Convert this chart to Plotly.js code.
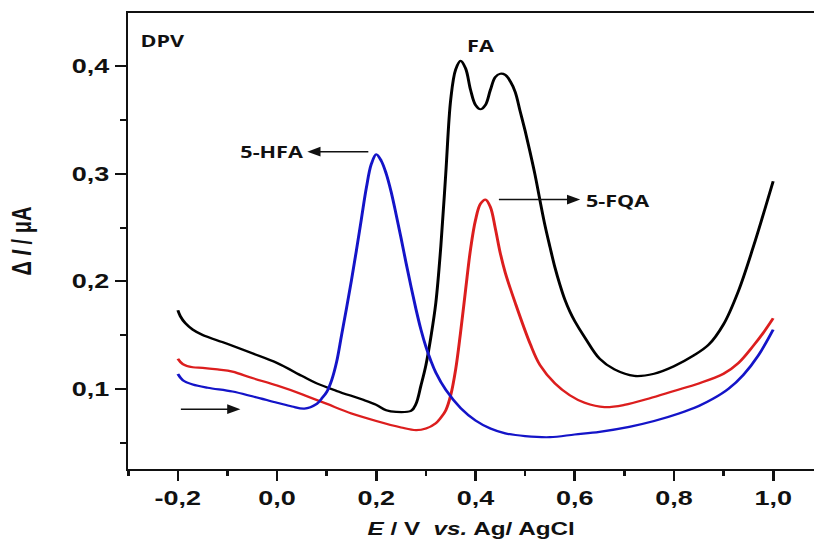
<!DOCTYPE html>
<html>
<head>
<meta charset="utf-8">
<script src="https://cdn.plot.ly/plotly-3.0.1.min.js"></script>
<style>
html,body{margin:0;padding:0;background:#fff;overflow:hidden;width:814px;height:550px;}
#chart{width:603px;height:550px;transform:scaleX(1.35);transform-origin:0 0;}
</style>
</head>
<body>
<div id="chart"></div>
<script>
// FA (black)
const faE = [-0.2,-0.195,-0.185,-0.17,-0.15,-0.12,-0.09,-0.05,0.0,0.05,0.08,0.12,0.175,0.20,0.22,0.24,0.27,0.28,0.29,0.30,0.31,0.32,0.33,0.34,0.35,0.36,0.37,0.38,0.39,0.40,0.41,0.42,0.43,0.44,0.45,0.46,0.47,0.48,0.49,0.50,0.51,0.52,0.53,0.54,0.55,0.56,0.57,0.58,0.59,0.60,0.62,0.65,0.68,0.72,0.76,0.80,0.84,0.87,0.90,0.93,0.96,0.98,1.0];
const faI = [0.173,0.1675,0.161,0.155,0.150,0.145,0.140,0.133,0.124,0.112,0.105,0.098,0.0895,0.085,0.080,0.0785,0.0795,0.086,0.103,0.122,0.148,0.180,0.232,0.300,0.369,0.397,0.405,0.398,0.378,0.364,0.360,0.364,0.378,0.390,0.393,0.392,0.386,0.376,0.358,0.340,0.320,0.299,0.275,0.252,0.232,0.213,0.197,0.183,0.172,0.163,0.148,0.128,0.118,0.112,0.114,0.121,0.131,0.141,0.160,0.191,0.232,0.262,0.293];
// 5-FQA (red)
const fqaE = [-0.2,-0.19,-0.17,-0.15,-0.12,-0.09,-0.05,0.0,0.05,0.10,0.15,0.20,0.25,0.28,0.30,0.32,0.33,0.34,0.35,0.36,0.37,0.38,0.39,0.40,0.41,0.42,0.43,0.44,0.45,0.46,0.48,0.51,0.53,0.56,0.59,0.62,0.66,0.70,0.75,0.80,0.85,0.90,0.93,0.96,0.98,1.0];
const fqaI = [0.128,0.123,0.120,0.1195,0.118,0.116,0.110,0.103,0.095,0.086,0.077,0.070,0.064,0.0615,0.063,0.068,0.073,0.080,0.094,0.118,0.153,0.192,0.230,0.257,0.272,0.276,0.269,0.249,0.226,0.208,0.180,0.142,0.122,0.105,0.094,0.087,0.083,0.085,0.091,0.098,0.105,0.114,0.124,0.140,0.152,0.1656];
// 5-HFA (blue)
const hfaE = [-0.2,-0.19,-0.17,-0.14,-0.09,-0.05,0.0,0.03,0.055,0.08,0.09,0.10,0.11,0.12,0.13,0.14,0.15,0.16,0.17,0.18,0.19,0.20,0.21,0.22,0.23,0.24,0.25,0.26,0.27,0.28,0.29,0.30,0.31,0.32,0.34,0.37,0.40,0.43,0.46,0.50,0.55,0.60,0.65,0.71,0.76,0.81,0.85,0.88,0.91,0.94,0.97,1.0];
const hfaI = [0.1137,0.108,0.104,0.101,0.0975,0.093,0.087,0.0835,0.0815,0.086,0.091,0.097,0.108,0.125,0.150,0.175,0.201,0.229,0.258,0.287,0.309,0.318,0.312,0.300,0.283,0.262,0.240,0.217,0.195,0.174,0.155,0.139,0.126,0.115,0.099,0.082,0.0705,0.063,0.0585,0.056,0.055,0.0575,0.060,0.0646,0.070,0.077,0.084,0.091,0.100,0.113,0.131,0.155];

const xTickVals = [-0.2,0.0,0.2,0.4,0.6,0.8,1.0];
const xTickText = ['-0,2','0,0','0,2','0,4','0,6','0,8','1,0'];
const yTickVals = [0.1,0.2,0.3,0.4];
const yTickText = ['0,1','0,2','0,3','0,4'];

const tickFont = {family:'Liberation Sans, Arial, sans-serif', size:20, weight:'bold', color:'#111'};
const noteFont = {family:'Open Sans, sans-serif', size:16, weight:'bold', color:'#111'};

const traces = [
  {x:faE, y:faI, mode:'lines', name:'FA', line:{color:'#000000', width:2.2, shape:'spline', smoothing:1}},
  {x:fqaE, y:fqaI, mode:'lines', name:'5-FQA', line:{color:'#dc1e1e', width:2.2, shape:'spline', smoothing:1}},
  {x:hfaE, y:hfaI, mode:'lines', name:'5-HFA', line:{color:'#1414c8', width:2.2, shape:'spline', smoothing:1}}
];

function arrow(x, y, ax) {
  return {x:x, y:y, ax:ax, ay:y, xref:'x', yref:'y', axref:'x', ayref:'y', text:'', showarrow:true,
          arrowhead:2, arrowsize:1.3, arrowwidth:1.5, arrowcolor:'#111', standoff:0, startstandoff:0};
}
function label(t, x, y) {
  return {x:x, y:y, xref:'x', yref:'y', text:t, showarrow:false, xanchor:'center', yanchor:'middle', font:noteFont};
}

const layout = {
  width:603, height:550,
  margin:{l:95, r:0, t:13, b:81},
  paper_bgcolor:'#ffffff', plot_bgcolor:'#ffffff',
  showlegend:false,
  separators:', ',
  xaxis:{
    range:[-0.3,1.0824], tickmode:'array', tickvals:xTickVals, ticktext:xTickText,
    showline:true, linecolor:'#111', linewidth:2, mirror:true,
    ticks:'outside', ticklen:10, tickwidth:2, tickcolor:'#111',
    minor:{dtick:0.1, tick0:0, ticks:'outside', ticklen:5, tickwidth:2, tickcolor:'#111', showgrid:false},
    showgrid:false, zeroline:false, tickfont:tickFont,
    title:{text:'<i>E</i> / V  <i>vs.</i> Ag/ AgCl', font:{family:'Liberation Sans, Arial, sans-serif', size:18, weight:'bold', color:'#111'}, standoff:14}
  },
  yaxis:{
    range:[0.0254,0.4495], tickmode:'array', tickvals:yTickVals, ticktext:yTickText,
    showline:true, linecolor:'#111', linewidth:2, mirror:false,
    ticks:'outside', ticklen:8, tickwidth:2, tickcolor:'#111',
    minor:{dtick:0.05, tick0:0, ticks:'outside', ticklen:4, tickwidth:2, tickcolor:'#111', showgrid:false},
    showgrid:false, zeroline:false, tickfont:tickFont,
    title:{text:'Δ <i>I</i> / μA', font:{family:'Liberation Sans, Arial, sans-serif', size:20, weight:'bold', color:'#111'}, standoff:24}
  },
  annotations:[
    label('DPV', -0.231, 0.4233),
    label('FA', 0.4127, 0.419),
    label('5-HFA', -0.0113, 0.3203),
    label('5-FQA', 0.6866, 0.2746),
    arrow(-0.074, 0.081, -0.198),
    arrow(0.061, 0.3205, 0.188),
    arrow(0.611, 0.276, 0.443)
  ]
};

Plotly.newPlot('chart', traces, layout, {staticPlot:true, displayModeBar:false, responsive:false});
</script>
</body>
</html>
